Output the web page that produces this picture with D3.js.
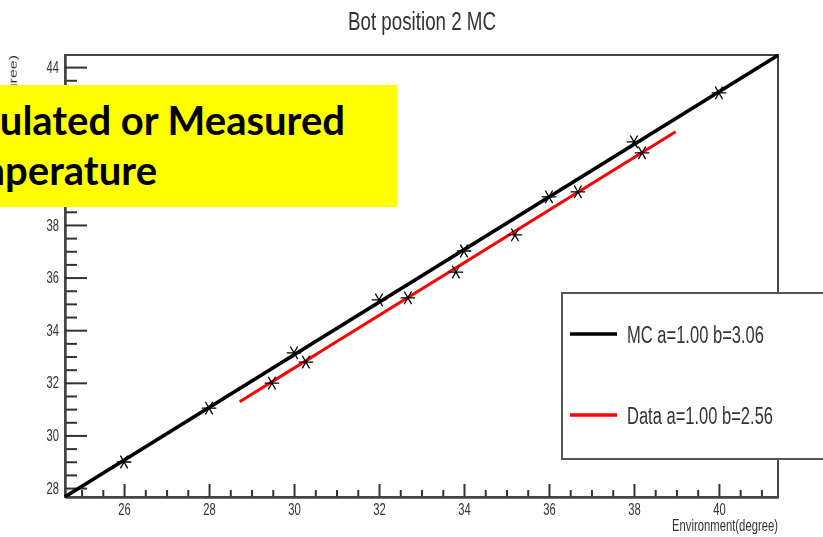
<!DOCTYPE html>
<html>
<head>
<meta charset="utf-8">
<script src="https://cdn.jsdelivr.net/npm/d3@7"></script>
<style>
  body { margin: 0; background: #fff; }
  svg { display: block; }
</style>
</head>
<body>
<svg id="chart" width="823" height="537"></svg>
<script>
// ---- data ----
const chartTitle = "Bot position 2 MC";
const xTitle = "Environment(degree)";
const yTitle = "Temperature(degree)";
const overlayLines = ["Simulated or Measured", "Temperature"];

const xTicks = [26, 28, 30, 32, 34, 36, 38, 40];
const yTicks = [28, 30, 32, 34, 36, 38, 40, 42, 44];

// simulated (MC) points
const mcX = [26, 28, 30, 32, 34, 36, 38, 40];
const mcY = [28.99, 31.04, 33.14, 35.15, 37.01, 39.07, 41.16, 43.02];

// measured points
const dataX = [29.48, 30.28, 32.68, 33.81, 35.20, 36.68, 38.19];
const dataY = [31.99, 32.79, 35.23, 36.21, 37.62, 39.26, 40.74];

// linear fits y = a*x + b
const fitNames = ["MC", "Data"];
const fitA = [1.00, 1.00];
const fitB = [3.06, 2.56];
const fitRanges = [[24.61, 41.39], [28.72, 38.98]];
const fitColors = ["#000000", "#ff0000"];

const xDomain = [24.61, 41.39];
const yDomain = [27.66, 44.46];

// ---- layout ----
const frame = { left: 65, top: 55, right: 778, bottom: 497 };
const squeeze = 0.7;          // horizontal text compression
const fontFamily = "'Liberation Sans', Arial, sans-serif";
const textColor = "#333";

const svg = d3.select("#chart");
const defs = svg.append("defs");
defs.append("filter").attr("id", "soft")
  .append("feGaussianBlur").attr("stdDeviation", 0.45);

const g = svg.append("g").attr("filter", "url(#soft)");

const x = d3.scaleLinear().domain(xDomain).range([frame.left, frame.right]);
const y = d3.scaleLinear().domain(yDomain).range([frame.bottom, frame.top]);

// frame
g.append("rect")
  .attr("x", frame.left).attr("y", frame.top)
  .attr("width", frame.right - frame.left)
  .attr("height", frame.bottom - frame.top)
  .attr("fill", "none").attr("stroke", "#444").attr("stroke-width", 2);

// minor tick positions every 0.5
const xMinor = d3.range(Math.ceil(xDomain[0] * 2) / 2, xDomain[1], 0.5).filter(v => v % 2 !== 0);
const yMinor = d3.range(Math.ceil(yDomain[0] * 2) / 2, yDomain[1], 0.5).filter(v => v % 2 !== 0);

function styleAxis(sel) {
  sel.selectAll("path.domain").attr("stroke", "#444").attr("stroke-width", 2);
  sel.selectAll(".tick line").attr("stroke", "#333").attr("stroke-width", 2);
}

// x axis
const gxMinor = g.append("g").attr("transform", `translate(0,${frame.bottom})`)
  .call(d3.axisBottom(x).tickValues(xMinor).tickSize(-7).tickSizeOuter(0).tickFormat(""));
styleAxis(gxMinor);
const gx = g.append("g").attr("transform", `translate(0,${frame.bottom})`)
  .call(d3.axisBottom(x).tickValues(xTicks).tickSize(-13).tickSizeOuter(0).tickPadding(7));
styleAxis(gx);
gx.selectAll(".tick text")
  .attr("font-family", fontFamily).attr("font-size", 16).attr("fill", textColor)
  .attr("transform", `scale(${squeeze},1)`);

// y axis
const gyMinor = g.append("g").attr("transform", `translate(${frame.left},0)`)
  .call(d3.axisLeft(y).tickValues(yMinor).tickSize(-12).tickSizeOuter(0).tickFormat(""));
styleAxis(gyMinor);
const gy = g.append("g").attr("transform", `translate(${frame.left},0)`)
  .call(d3.axisLeft(y).tickValues(yTicks).tickSize(-22).tickSizeOuter(0).tickPadding(6));
styleAxis(gy);
gy.selectAll(".tick text")
  .attr("font-family", fontFamily).attr("font-size", 16).attr("fill", textColor)
  .attr("x", -6 / squeeze)
  .attr("transform", `scale(${squeeze},1)`);

// title
g.append("text")
  .attr("x", 422).attr("y", 30)
  .attr("text-anchor", "middle")
  .attr("font-family", fontFamily).attr("font-size", 25).attr("fill", textColor)
  .attr("textLength", 148).attr("lengthAdjust", "spacingAndGlyphs")
  .text(chartTitle);

// axis titles
g.append("text")
  .attr("x", frame.right).attr("y", 531)
  .attr("text-anchor", "end")
  .attr("font-family", fontFamily).attr("font-size", 16).attr("fill", textColor)
  .attr("textLength", 106).attr("lengthAdjust", "spacingAndGlyphs")
  .text(xTitle);

g.append("text")
  .attr("transform", `translate(17,${frame.top}) scale(${squeeze},1) rotate(-90)`)
  .attr("text-anchor", "end")
  .attr("font-family", fontFamily).attr("font-size", 16).attr("fill", textColor)
  .text(yTitle);

// fit lines
const line = d3.line().x(d => x(d[0])).y(d => y(d[1]));
fitNames.forEach((name, i) => {
  const pts = fitRanges[i].map(v => [v, fitA[i] * v + fitB[i]]);
  g.append("path")
    .attr("d", line(pts))
    .attr("fill", "none")
    .attr("stroke", fitColors[i])
    .attr("stroke-width", i === 0 ? 3.6 : 3);
});

// markers
const star = d3.symbol().type(d3.symbolAsterisk).size(150);
const points = mcX.map((v, i) => [v, mcY[i]])
  .concat(dataX.map((v, i) => [v, dataY[i]]));
g.append("g").selectAll("path")
  .data(points)
  .join("path")
  .attr("transform", d => `translate(${x(d[0])},${y(d[1])}) rotate(90)`)
  .attr("d", star)
  .attr("fill", "none")
  .attr("stroke", "#000")
  .attr("stroke-width", 1.3);

// legend
const legend = g.append("g");
legend.append("rect")
  .attr("x", 562).attr("y", 293)
  .attr("width", 320).attr("height", 166)
  .attr("fill", "#fff").attr("stroke", "#555").attr("stroke-width", 2);
const legendRows = [334, 415];
const legendWidths = [137, 146];
fitNames.forEach((name, i) => {
  legend.append("line")
    .attr("x1", 570).attr("x2", 617)
    .attr("y1", legendRows[i]).attr("y2", legendRows[i])
    .attr("stroke", fitColors[i]).attr("stroke-width", 3.5);
  legend.append("text")
    .attr("x", 627).attr("y", legendRows[i] + 9)
    .attr("font-family", fontFamily).attr("font-size", 23).attr("fill", textColor)
    .attr("textLength", legendWidths[i]).attr("lengthAdjust", "spacingAndGlyphs")
    .text(`${name} a=${fitA[i].toFixed(2)} b=${fitB[i].toFixed(2)}`);
});

// highlighted caption box
const box = svg.append("g");
box.append("rect")
  .attr("x", 0).attr("y", 85).attr("width", 397).attr("height", 122)
  .attr("fill", "#ffff00");
const captionEnds = [[345, 135], [157, 185]];
overlayLines.forEach((t, i) => {
  box.append("text")
    .attr("x", captionEnds[i][0]).attr("y", captionEnds[i][1])
    .attr("text-anchor", "end")
    .attr("font-family", "Lato, 'Open Sans', sans-serif")
    .attr("font-weight", 700)
    .attr("font-size", 40)
    .attr("fill", "#000")
    .text(t);
});
</script>
</body>
</html>
